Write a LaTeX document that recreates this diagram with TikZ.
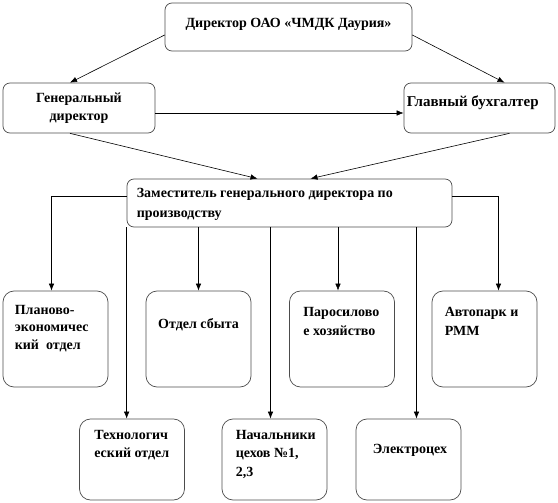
\documentclass[tikz,border=0pt]{standalone}
\usepackage{fontspec}
\setmainfont{Liberation Serif}
\usetikzlibrary{positioning,arrows.meta,shapes}

\tikzset{
	box/.style={draw=black!70, line width=0.7pt, rounded corners=7pt, inner sep=0pt},
	unit/.style={box, rounded corners=11pt, minimum width=105pt, minimum height=96pt},
	lowunit/.style={unit, minimum height=81pt},
	txt/.style={font=\bfseries\fontsize{14}{18.5}\selectfont, inner sep=0pt, align=left},
	link/.style={->, line width=0.6pt}
}

\begin{document}
\begin{tikzpicture}[x=1pt, y=-1pt, >={Latex[length=7pt,width=5.5pt]}]
		\useasboundingbox (0,0) rectangle (558,503);
		
		% Top level
		\node[box, minimum width=247pt, minimum height=48pt] (dir) at (288.5,27) {};
		\node[txt, below=15pt of dir.north] (dir-t) {Директор ОАО «ЧМДК Даурия»};
		
		% Second level
		\node[box, minimum width=152pt, minimum height=50pt] (gen) at (79,108) {};
		\node[txt, align=center, below=10pt of gen.north] (gen-t) {Генеральный\\директор};
		\node[box, minimum width=151pt, minimum height=50pt] (buh) at (479.5,108) {};
		\node[txt, font=\bfseries\fontsize{15}{18.5}\selectfont, below right=13pt and 3pt of buh.north west] (buh-t) {Главный бухгалтер};
		
		% Deputy director
		\node[box, minimum width=325pt, minimum height=48pt] (zam) at (289.5,203) {};
		\node[txt, font=\bfseries\fontsize{14}{20}\selectfont, below right=9pt and 10pt of zam.north west] (zam-t) {Заместитель генерального директора по\\производству};
		
		% Departments, upper row
		\node[unit] (plan) at (55.5,339) {};
		\node[txt, font=\bfseries\fontsize{14}{17.5}\selectfont, below right=14pt and 12pt of plan.north west] (plan-t) {Планово-\\экономичес\\кий\ \ отдел};
		\node[unit] (sbyt) at (198.5,339) {};
		\node[txt, below=28pt of sbyt.north] (sbyt-t) {Отдел сбыта};
		\node[unit] (par) at (342,339) {};
		\node[txt, font=\bfseries\fontsize{14}{19}\selectfont, below right=16pt and 14pt of par.north west] (par-t) {Паросилово\\е хозяйство};
		\node[unit] (avto) at (484.5,339) {};
		\node[txt, font=\bfseries\fontsize{14}{19}\selectfont, below right=16pt and 13pt of avto.north west] (avto-t) {Автопарк и\\РММ};
		
		% Departments, lower row
		\node[lowunit] (tech) at (132,459.5) {};
		\node[txt, below right=11pt and 15pt of tech.north west] (tech-t) {Технологич\\еский отдел};
		\node[lowunit] (nach) at (274.5,459.5) {};
		\node[txt, below right=11pt and 14pt of nach.north west] (nach-t) {Начальники\\цехов №1,\\2,3};
		\node[lowunit] (elek) at (408.5,459.5) {};
		\node[txt, below right=25pt and 17pt of elek.north west] (elek-t) {Электроцех};
		
		% Links between top levels
		\draw[link] ([yshift=-8pt]dir.west) -- ([xshift=-9pt]gen.north);
		\draw[link] ([yshift=-8pt]dir.east) -- ([xshift=25pt]buh.north);
		\draw[link] ([yshift=-5pt]gen.east) -- ([yshift=-5pt]buh.west);
		\draw[link] ([xshift=-9pt]gen.south) -- ([xshift=-32pt]zam.north);
		\draw[link] ([xshift=30pt]buh.south) -- ([xshift=21pt]zam.north);
		
		% Links to departments
		\draw[link] ([yshift=7pt]zam.west) -| ([xshift=-4pt]plan.north);
		\draw[link] ([yshift=7pt]zam.east) -| ([xshift=14pt]avto.north);
		\draw[link] (zam.south -| sbyt.north) -- (sbyt.north);
		\draw[link] ([xshift=-4pt]par.north |- zam.south) -- ([xshift=-4pt]par.north);
		\draw[link] (zam.south west) -- (zam.south west |- tech.north);
		\draw[link] ([xshift=-4pt]nach.north |- zam.south) -- ([xshift=-4pt]nach.north);
		\draw[link] ([xshift=8pt]elek.north |- zam.south) -- ([xshift=8pt]elek.north);
	\end{tikzpicture}
\end{document}
